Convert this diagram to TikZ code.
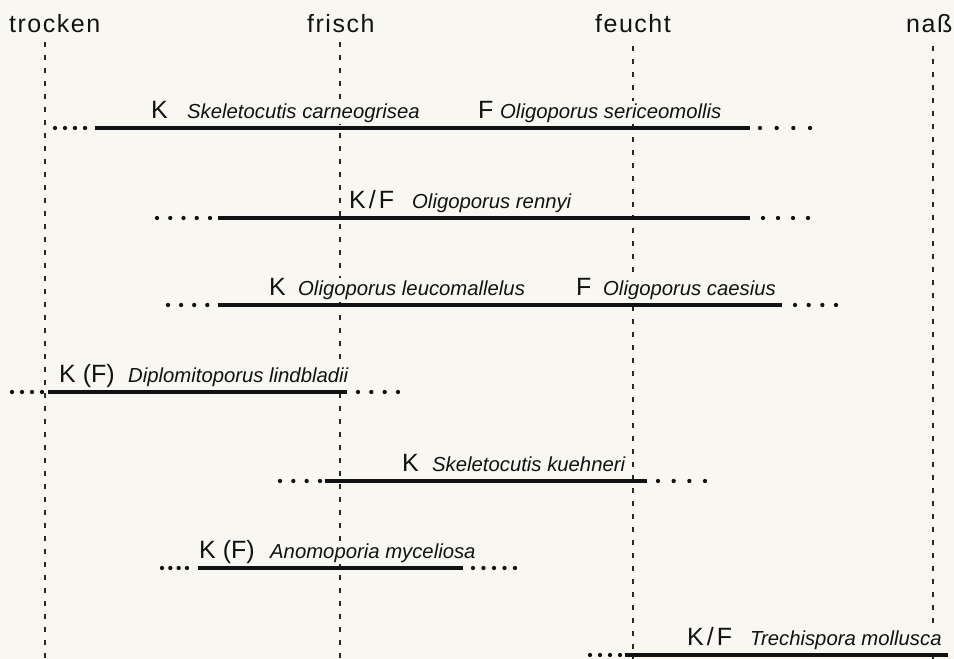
\documentclass[tikz,border=0pt]{standalone}
\usepackage{fontspec}
\setmainfont{Liberation Sans}
\newfontfamily\hdrfont[LetterSpace=6]{Liberation Sans}
\definecolor{bg}{RGB}{248,247,242}
\definecolor{ink}{RGB}{18,18,18}
\definecolor{gridc}{RGB}{40,40,40}
\begin{document}
\begin{tikzpicture}[x=1pt,y=-1pt,
  hdr/.style={anchor=base west,inner sep=0pt,font=\hdrfont\fontsize{25}{29}\selectfont,text=ink},
  pre/.style={anchor=base west,inner sep=0pt,font=\fontsize{25}{29}\selectfont,text=ink},
  spec/.style={anchor=base west,inner xsep=1pt,inner ysep=2pt,fill=bg,font=\fontsize{20.3}{24}\selectfont\itshape,text=ink},
  gridline/.style={draw=gridc,line width=1.2pt,dash pattern=on 5pt off 8pt},
  barline/.style={draw=ink,line width=3.6pt},
  dotrow/.style={draw=ink,line width=4.3pt,line cap=round,dash pattern=on 0pt off #1pt},
]
\useasboundingbox (0,0) rectangle (954,659);
\fill[bg] (0,0) rectangle (954,659);

% column headers
\node[hdr] (htrocken) at (9,32) {trocken};
\node[hdr] (hfrisch) at (307,32) {frisch};
\node[hdr] (hfeucht) at (595,32) {feucht};
\node[hdr] (hnass) at (906,32) {naß};

% vertical dashed guide lines
\coordinate (t0) at (45,42);  \coordinate (t1) at (45,659);
\coordinate (f0) at (340,42); \coordinate (f1) at (340,659);
\coordinate (u0) at (633,46); \coordinate (u1) at (633,659);
\coordinate (n0) at (933,46); \coordinate (n1) at (933,659);
\draw[gridline] (t0) -- (t1);
\draw[gridline] (f0) -- (f1);
\draw[gridline] (u0) -- (u1);
\draw[gridline] (n0) -- (n1);

% ---- row 1
\node[pre]  (k1)  at (151,118) {K};
\node[spec] (s1a) at (186,118) {Skeletocutis carneogrisea};
\node[pre]  (f1l) at (478,118) {F};
\node[spec] (s1b) at (499,118) {Oligoporus sericeomollis};
\coordinate (a1) at (55,128);  \coordinate (b1) at (85.3,128);
\coordinate (c1) at (95,128);  \coordinate (d1) at (750,128);
\coordinate (e1) at (760,128); \coordinate (g1) at (810.3,128);
\draw[dotrow=10] (a1) -- (b1);
\draw[barline] (c1) -- (d1);
\draw[dotrow=16.67] (e1) -- (g1);

% ---- row 2
\node[pre]  (k2)  at (349,208) {K\kern3pt/\kern3ptF};
\node[spec] (s2)  at (411,208) {Oligoporus rennyi};
\coordinate (a2) at (157,218); \coordinate (b2) at (210.3,218);
\coordinate (c2) at (218,218); \coordinate (d2) at (750,218);
\coordinate (e2) at (763,218); \coordinate (g2) at (808.3,218);
\draw[dotrow=13.25] (a2) -- (b2);
\draw[barline] (c2) -- (d2);
\draw[dotrow=15] (e2) -- (g2);

% ---- row 3
\node[pre]  (k3)  at (269,295) {K};
\node[spec] (s3a) at (297,295) {Oligoporus leucomallelus};
\node[pre]  (f3l) at (576,295) {F};
\node[spec] (s3b) at (602,295) {Oligoporus caesius};
\coordinate (a3) at (168,305); \coordinate (b3) at (207.3,305);
\coordinate (c3) at (218,305); \coordinate (d3) at (782,305);
\coordinate (e3) at (795,305); \coordinate (g3) at (836.3,305);
\draw[dotrow=13.1] (a3) -- (b3);
\draw[barline] (c3) -- (d3);
\draw[dotrow=13.67] (e3) -- (g3);

% ---- row 4
\node[pre]  (k4)  at (59,382) {K (F)};
\node[spec] (s4)  at (127,382) {Diplomitoporus lindbladii};
\coordinate (a4) at (12,392);  \coordinate (b4) at (42.3,392);
\coordinate (c4) at (48,392);  \coordinate (d4) at (347,392);
\coordinate (e4) at (358,392); \coordinate (g4) at (398.3,392);
\draw[dotrow=10] (a4) -- (b4);
\draw[barline] (c4) -- (d4);
\draw[dotrow=13.33] (e4) -- (g4);

% ---- row 5
\node[pre]  (k5)  at (402,471) {K};
\node[spec] (s5)  at (431,471) {Skeletocutis kuehneri};
\coordinate (a5) at (280,481); \coordinate (b5) at (320.3,481);
\coordinate (c5) at (325,481); \coordinate (d5) at (647,481);
\coordinate (e5) at (658,481); \coordinate (g5) at (705.3,481);
\draw[dotrow=13.33] (a5) -- (b5);
\draw[barline] (c5) -- (d5);
\draw[dotrow=15.67] (e5) -- (g5);

% ---- row 6
\node[pre]  (k6)  at (199,558) {K (F)};
\node[spec] (s6)  at (269,558) {Anomoporia myceliosa};
\coordinate (a6) at (162,568); \coordinate (b6) at (187.3,568);
\coordinate (c6) at (198,568); \coordinate (d6) at (463,568);
\coordinate (e6) at (473,568); \coordinate (g6) at (515.3,568);
\draw[dotrow=8.33] (a6) -- (b6);
\draw[barline] (c6) -- (d6);
\draw[dotrow=10.5] (e6) -- (g6);

% ---- row 7
\node[pre]  (k7)  at (687,645) {K\kern3pt/\kern3ptF};
\node[spec] (s7)  at (749,645) {Trechispora mollusca};
\coordinate (a7) at (590,655); \coordinate (b7) at (620.3,655);
\coordinate (c7) at (625,655); \coordinate (d7) at (948,655);
\draw[dotrow=10] (a7) -- (b7);
\draw[barline] (c7) -- (d7);
\end{tikzpicture}
\end{document}
